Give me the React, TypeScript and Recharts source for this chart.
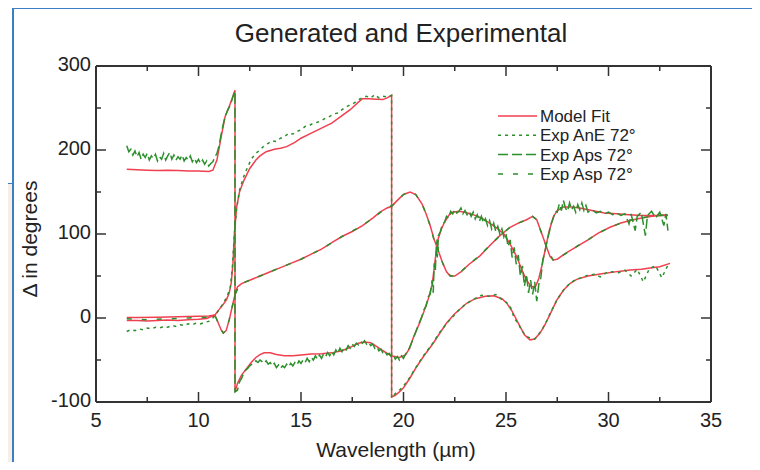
import { LineChart, Line, XAxis, YAxis, ReferenceLine } from "recharts";

// wavelength (µm), delta (deg) pairs
const fitA: [number, number][] = [
  [6.5, 177], [7, 176.5], [7.5, 176], [8, 175.5], [8.5, 176], [9, 175.5], [9.5, 175], [10, 175],
  [10.5, 174.5], [10.7, 176], [10.9, 188], [11.1, 215], [11.3, 240], [11.5, 252], [11.65, 262], [11.78, 271],
  [11.78, -88], [11.9, -78], [12.1, -68], [12.35, -60], [12.6, -52], [12.8, -47], [13, -43.5], [13.2, -41.5],
  [13.5, -41.5], [13.8, -43.5], [14.2, -45], [14.6, -45], [15, -44], [15.5, -43], [16, -42.5], [16.5, -41.5],
  [17, -39], [17.4, -35], [17.8, -30], [18.1, -28.5], [18.4, -29.5], [18.7, -34], [19, -39], [19.4, -45],
  [19.8, -47], [20.1, -44], [20.3, -36], [20.5, -22], [20.8, -5], [21, 8], [21.2, 22], [21.4, 40],
  [21.55, 70], [21.7, 95], [21.85, 106], [22, 114], [22.2, 122], [22.4, 126], [22.7, 127], [23, 126],
  [23.4, 123], [23.8, 119], [24.2, 113], [24.6, 106], [24.9, 100], [25.2, 88], [25.5, 74], [25.8, 56],
  [26, 45], [26.25, 37], [26.45, 38], [26.6, 47], [26.75, 62], [26.9, 80], [27.1, 103], [27.3, 120],
  [27.5, 128], [27.8, 132], [28.2, 132], [28.6, 131], [29.2, 128], [29.8, 125], [30.4, 124], [31, 123],
  [31.6, 122], [32.2, 122], [32.9, 122],
];

const fitB: [number, number][] = [
  [6.5, 0.5], [7, 0.5], [8, 1], [9, 1.5], [10, 2], [10.5, 2.5], [10.8, 3.5], [11, 10], [11.2, 16],
  [11.37, 22], [11.5, 30], [11.6, 42], [11.68, 65], [11.75, 100], [11.86, 132], [12, 150], [12.2, 163],
  [12.5, 178], [12.8, 188], [13, 193], [13.3, 198], [13.7, 201], [14, 202], [14.3, 204], [14.7, 209],
  [15, 214], [15.5, 220], [16, 226], [16.5, 232], [17, 241], [17.4, 248], [17.8, 257], [18, 261],
  [18.3, 261], [18.7, 260.5], [19, 260], [19.2, 262], [19.42, 265],
  [19.42, -94], [19.6, -92], [19.8, -88], [20, -83], [20.3, -72], [20.64, -58], [21, -45], [21.45, -30],
  [21.8, -17], [22.1, -6], [22.5, 5], [23.08, 17.5], [23.5, 23], [24, 26], [24.4, 26.5], [24.8, 23],
  [25.03, 18], [25.3, 8], [25.68, -10], [25.9, -20], [26.17, -26], [26.4, -25], [26.66, -18], [26.9, -8],
  [27.2, 7], [27.47, 21], [27.8, 33], [28.12, 41], [28.45, 46], [29, 50], [29.75, 53], [30.5, 55.5],
  [31.05, 57], [31.6, 58], [32.2, 60], [32.5, 61], [33, 65],
];

const fitC: [number, number][] = [
  [6.5, -3], [7, -3], [7.5, -3.5], [8, -3], [8.5, -2.5], [9, -3], [9.5, -2], [10, -1.5], [10.4, -0.5],
  [10.8, 3.5], [10.95, -5], [11.1, -14], [11.21, -18], [11.35, -15], [11.5, -2], [11.65, 14], [11.78, 28],
  [11.9, 37], [12.1, 41], [12.5, 45], [13, 50], [13.5, 55], [14, 60], [14.5, 65], [15, 70], [15.5, 76],
  [16, 82], [16.58, 91], [17, 97], [17.5, 103], [18, 110], [18.5, 119], [18.85, 126], [19.2, 131],
  [19.42, 133], [19.7, 140], [20, 147], [20.32, 150], [20.6, 147], [20.9, 136], [21.1, 124], [21.3, 110],
  [21.5, 93], [21.7, 80], [21.9, 66], [22.1, 55], [22.27, 50], [22.5, 50], [22.8, 55], [23.2, 64],
  [23.73, 74], [24.2, 86], [24.7, 98], [25.2, 108], [25.6, 113], [26, 117], [26.3, 121], [26.5, 117],
  [26.75, 100], [27, 83], [27.15, 73], [27.3, 69], [27.5, 70], [27.9, 77], [28.45, 85], [29, 93],
  [29.5, 101], [30.07, 108], [30.6, 113], [31.2, 117], [31.8, 120], [32.4, 122], [32.9, 123],
];

// Exp Aps 72°
const expAps: [number, number][] = [
  [6.5, 205], [6.6, 198], [6.7, 201], [6.8, 194], [6.9, 199], [7, 192], [7.1, 197], [7.2, 189], [7.3, 195],
  [7.4, 191], [7.5, 196], [7.6, 188], [7.7, 193], [7.8, 190], [7.9, 195], [8, 187], [8.1, 192], [8.2, 189],
  [8.3, 196], [8.4, 188], [8.5, 193], [8.6, 197], [8.7, 189], [8.8, 194], [8.9, 188], [9, 192], [9.1, 189],
  [9.2, 194], [9.3, 187], [9.4, 191], [9.5, 188], [9.6, 193], [9.7, 186], [9.8, 190], [9.9, 185], [10, 189],
  [10.1, 184], [10.2, 188], [10.3, 183], [10.4, 187], [10.5, 181], [10.6, 184], [10.7, 186], [10.8, 192],
  [10.9, 196], [11, 205], [11.1, 218], [11.2, 230], [11.3, 240], [11.4, 246], [11.5, 251], [11.6, 257],
  [11.7, 265], [11.78, 270],
  [11.78, -88], [11.9, -86], [12, -76], [12.1, -72], [12.2, -66], [12.3, -62], [12.4, -60], [12.5, -57],
  [12.6, -55], [12.7, -53], [12.8, -51], [12.9, -53], [13, -50], [13.1, -52], [13.2, -54], [13.3, -51],
  [13.4, -55], [13.5, -53], [13.6, -57], [13.7, -54], [13.8, -59], [13.9, -56], [14, -60], [14.1, -57],
  [14.2, -59], [14.3, -55], [14.4, -58], [14.5, -54], [14.6, -57], [14.7, -53], [14.8, -56], [14.9, -51],
  [15, -54], [15.1, -50], [15.2, -53], [15.3, -48], [15.4, -52], [15.5, -47], [15.6, -50], [15.7, -45],
  [15.8, -49], [15.9, -44], [16, -48], [16.1, -43], [16.2, -46], [16.3, -41], [16.4, -45], [16.5, -40],
  [16.6, -44], [16.7, -38], [16.8, -42], [16.9, -36], [17, -40], [17.1, -35], [17.2, -38], [17.3, -33],
  [17.4, -36], [17.5, -31], [17.6, -34], [17.7, -30], [17.8, -32], [17.9, -28], [18, -30], [18.1, -27],
  [18.2, -31], [18.3, -29], [18.4, -33], [18.5, -31], [18.6, -36], [18.7, -34], [18.8, -39], [18.9, -37],
  [19, -42], [19.1, -40], [19.2, -44], [19.3, -42], [19.4, -46], [19.5, -44], [19.6, -49], [19.7, -46],
  [19.8, -50], [19.9, -45], [20, -48], [20.1, -43], [20.2, -40], [20.3, -35], [20.5, -23], [20.7, -10],
  [20.9, 2], [21, 10], [21.1, 14], [21.2, 25], [21.3, 28], [21.4, 45], [21.45, 30], [21.5, 65],
  [21.55, 55], [21.6, 85], [21.65, 72], [21.7, 98], [21.8, 103], [21.9, 112], [22, 114], [22.1, 121],
  [22.2, 119], [22.3, 127], [22.4, 124], [22.5, 129], [22.6, 125], [22.7, 127], [22.8, 131], [22.9, 124],
  [23, 128], [23.1, 123], [23.2, 127], [23.3, 121], [23.4, 126], [23.5, 118], [23.6, 123], [23.7, 115],
  [23.8, 121], [23.9, 113], [24, 118], [24.1, 110], [24.2, 116], [24.3, 106], [24.4, 113], [24.5, 103],
  [24.6, 109], [24.7, 100], [24.8, 106], [24.9, 96], [25, 100], [25.1, 85], [25.2, 93], [25.3, 72],
  [25.4, 84], [25.5, 64], [25.6, 75], [25.7, 50], [25.8, 62], [25.9, 38], [26, 52], [26.1, 30],
  [26.2, 45], [26.3, 28], [26.4, 43], [26.5, 20], [26.6, 40], [26.7, 48], [26.8, 70], [26.9, 78],
  [27, 92], [27.1, 101], [27.2, 112], [27.3, 118], [27.4, 127], [27.5, 126], [27.6, 136], [27.7, 128],
  [27.8, 140], [27.9, 131], [28, 127], [28.1, 137], [28.2, 129], [28.3, 133], [28.4, 126], [28.5, 135],
  [28.6, 129], [28.7, 137], [28.8, 128], [28.9, 134], [29, 126], [29.2, 129], [29.4, 125], [29.6, 127],
  [29.8, 124], [30, 126], [30.2, 123], [30.4, 125], [30.6, 122], [30.8, 124], [31, 112], [31.1, 124],
  [31.3, 104], [31.4, 121], [31.6, 126], [31.8, 98], [31.9, 122], [32.1, 127], [32.3, 119], [32.5, 126],
  [32.7, 110], [32.8, 124], [32.9, 104],
];

// Exp AnE 72°
const expAnE: [number, number][] = [
  [6.5, -16], [6.7, -14], [6.9, -15], [7.1, -13], [7.3, -14], [7.5, -12], [7.7, -13], [7.9, -11],
  [8.1, -12], [8.3, -10], [8.5, -11], [8.7, -9], [8.9, -10], [9.1, -8], [9.3, -9], [9.5, -7], [9.7, -8],
  [9.9, -6], [10.1, -7], [10.3, -5], [10.5, -4], [10.7, 0], [10.85, 4], [11, 10], [11.2, 17], [11.4, 26],
  [11.55, 36], [11.65, 60], [11.75, 100], [11.86, 130], [12, 152], [12.2, 168], [12.4, 180], [12.6, 190],
  [12.8, 196], [13, 200], [13.2, 205], [13.4, 208], [13.6, 211], [13.8, 210], [14, 214], [14.2, 216],
  [14.4, 220], [14.6, 219], [14.8, 222], [15, 224], [15.2, 228], [15.4, 229], [15.6, 232], [15.8, 233],
  [16, 235], [16.2, 238], [16.4, 240], [16.6, 243], [16.8, 244], [17, 248], [17.2, 251], [17.4, 254],
  [17.6, 256], [17.8, 260], [18, 262], [18.2, 264], [18.4, 262], [18.6, 266], [18.8, 262], [19, 264],
  [19.2, 263], [19.42, 265],
  [19.42, -95], [19.6, -90], [19.8, -86], [20, -81], [20.3, -71], [20.6, -59], [21, -44], [21.4, -31],
  [21.8, -16], [22.2, -4], [22.6, 7], [23, 16], [23.4, 22], [23.8, 27], [24.2, 26], [24.5, 28], [24.8, 22],
  [25, 19], [25.2, 14], [25.4, 0], [25.6, -7], [25.8, -16], [26, -22], [26.2, -24], [26.4, -25],
  [26.6, -19], [26.8, -12], [27, -3], [27.2, 8], [27.5, 22], [27.8, 33], [28.1, 41], [28.4, 46],
  [28.7, 48], [29, 51], [29.3, 52], [29.6, 49], [29.9, 54], [30.2, 55], [30.5, 54], [30.8, 57],
  [31.1, 50], [31.4, 58], [31.7, 43], [32, 59], [32.3, 62], [32.6, 48], [32.9, 63],
];

// Exp Asp 72°
const expAsp: [number, number][] = [
  [6.5, -1], [7.5, -2], [8.5, -1], [9.5, 0], [10.4, 1], [10.8, 3], [10.95, -5], [11.1, -14], [11.21, -18],
  [11.35, -14], [11.5, -2], [11.65, 14], [11.78, 27], [12, 40], [13, 50], [14, 60], [15, 70], [16, 82],
  [17, 97], [18, 110], [19, 128], [19.5, 135], [20, 147], [20.3, 150], [20.6, 147], [20.9, 136],
  [21.1, 124], [21.3, 110], [21.5, 92], [21.6, 85], [21.65, 95], [21.7, 78], [21.8, 72], [21.9, 66],
  [22.1, 55], [22.3, 50], [22.5, 50], [22.8, 55], [23.2, 64], [23.7, 74], [24.2, 86], [24.7, 98],
  [25.2, 108], [25.6, 113], [26, 117], [26.3, 121], [26.5, 117], [26.75, 100], [27, 83], [27.3, 69],
  [27.6, 72], [28, 78], [28.5, 86], [29, 93], [29.5, 101], [30, 107], [30.5, 112], [31, 116],
  [31.5, 118], [32, 121], [32.5, 122], [32.9, 123],
];

const xTicks = [5, 7.5, 10, 12.5, 15, 17.5, 20, 22.5, 25, 27.5, 30, 32.5, 35];
const yTicks = [-100, -50, 0, 50, 100, 150, 200, 250, 300];

const legendItems = [
  { label: "Model Fit", color: "#f04050", dash: undefined },
  { label: "Exp AnE 72°", color: "#2b8f2b", dash: "3 4" },
  { label: "Exp Aps 72°", color: "#2b8f2b", dash: "10 4" },
  { label: "Exp Asp 72°", color: "#2b8f2b", dash: "5 10" },
];

const RED = "#f04050";
const GREEN = "#2b8f2b";
const AXIS = "#333";
const PLOT = { left: 96, top: 66, right: 711, bottom: 402 };
const FONT = "'Liberation Sans', Arial, sans-serif";

const pts = (arr: [number, number][]) => arr.map(([w, d]) => ({ w, d }));

function XTick(props: any) {
  const { x, payload } = props;
  const major = payload.value % 5 === 0;
  const len = major ? 10 : 5;
  return (
    <g>
      <line x1={x} x2={x} y1={PLOT.bottom} y2={PLOT.bottom - len} stroke={AXIS} strokeWidth={1.5} />
      <line x1={x} x2={x} y1={PLOT.top} y2={PLOT.top + len} stroke={AXIS} strokeWidth={1.5} />
      {major && (
        <text x={x} y={427} textAnchor="middle" fontSize={20} fill="#222" fontFamily={FONT}>
          {payload.value}
        </text>
      )}
    </g>
  );
}

function YTick(props: any) {
  const { y, payload } = props;
  const major = payload.value % 100 === 0;
  const len = major ? 10 : 5;
  return (
    <g>
      <line x1={PLOT.left} x2={PLOT.left + len} y1={y} y2={y} stroke={AXIS} strokeWidth={1.5} />
      <line x1={PLOT.right} x2={PLOT.right - len} y1={y} y2={y} stroke={AXIS} strokeWidth={1.5} />
      {major && (
        <text x={91} y={y + 5} textAnchor="end" fontSize={20} fill="#222" fontFamily={FONT}>
          {payload.value}
        </text>
      )}
    </g>
  );
}

export default function App() {
  const line = (key: string, data: [number, number][], color: string, dash?: string) => (
    <Line
      key={key}
      data={pts(data)}
      dataKey="d"
      type="linear"
      stroke={color}
      strokeWidth={1.5}
      strokeDasharray={dash}
      dot={false}
      isAnimationActive={false}
    />
  );

  return (
    <div style={{ position: "relative", width: 760, height: 470, margin: -8, overflow: "hidden", background: "#f5efe5" }}>
      <div style={{ position: "absolute", left: -20, top: -20, width: 57, height: 204, background: "#fff", border: "1.5px solid #3b7fc4", boxSizing: "border-box" }} />
      <div style={{ position: "absolute", left: -7, top: 112, fontFamily: FONT, fontSize: 20, color: "#333" }}>5</div>
      <div style={{ position: "absolute", left: 12, top: 7, width: 742, height: 490, background: "#fff", border: "2px solid #3b7fc4", boxSizing: "border-box" }} />

      <div style={{ position: "absolute", left: 0, top: 0 }}>
        <LineChart width={760} height={470} margin={{ top: 66, right: 49, bottom: 38, left: 56 }}>
          <XAxis
            dataKey="w"
            type="number"
            domain={[5, 35]}
            ticks={xTicks}
            interval={0}
            allowDataOverflow
            height={30}
            tickLine={false}
            tickSize={0}
            tick={(p: any) => <XTick {...p} />}
            axisLine={{ stroke: AXIS, strokeWidth: 2 }}
          />
          <YAxis
            type="number"
            domain={[-100, 300]}
            ticks={yTicks}
            interval={0}
            allowDataOverflow
            width={40}
            tickLine={false}
            tickSize={0}
            tick={(p: any) => <YTick {...p} />}
            axisLine={{ stroke: AXIS, strokeWidth: 2 }}
          />
          <ReferenceLine y={300} stroke={AXIS} strokeWidth={2} />
          <ReferenceLine x={35} stroke={AXIS} strokeWidth={2} />
          {line("fitA", fitA, RED)}
          {line("fitB", fitB, RED)}
          {line("fitC", fitC, RED)}
          {line("expAps", expAps, GREEN, "10 4")}
          {line("expAnE", expAnE, GREEN, "3 4")}
          {line("expAsp", expAsp, GREEN, "5 10")}
        </LineChart>
      </div>

      <svg width={760} height={470} style={{ position: "absolute", left: 0, top: 0, pointerEvents: "none" }}>
        <text x={401} y={42} textAnchor="middle" fontSize={26} fill="#222" fontFamily={FONT}>
          Generated and Experimental
        </text>
        <text x={396} y={457} textAnchor="middle" fontSize={21} fill="#222" fontFamily={FONT}>
          Wavelength (µm)
        </text>
        <text x={37} y={239} textAnchor="middle" fontSize={21} fill="#222" fontFamily={FONT} transform="rotate(-90 37 239)">
          Δ in degrees
        </text>
        {legendItems.map((it, i) => {
          const y = 116 + i * 19.3;
          return (
            <g key={it.label}>
              <line x1={498} x2={537} y1={y} y2={y} stroke={it.color} strokeWidth={1.5} strokeDasharray={it.dash} />
              <text x={540} y={y + 6} fontSize={17} fill="#222" fontFamily={FONT}>
                {it.label}
              </text>
            </g>
          );
        })}
      </svg>
    </div>
  );
}
